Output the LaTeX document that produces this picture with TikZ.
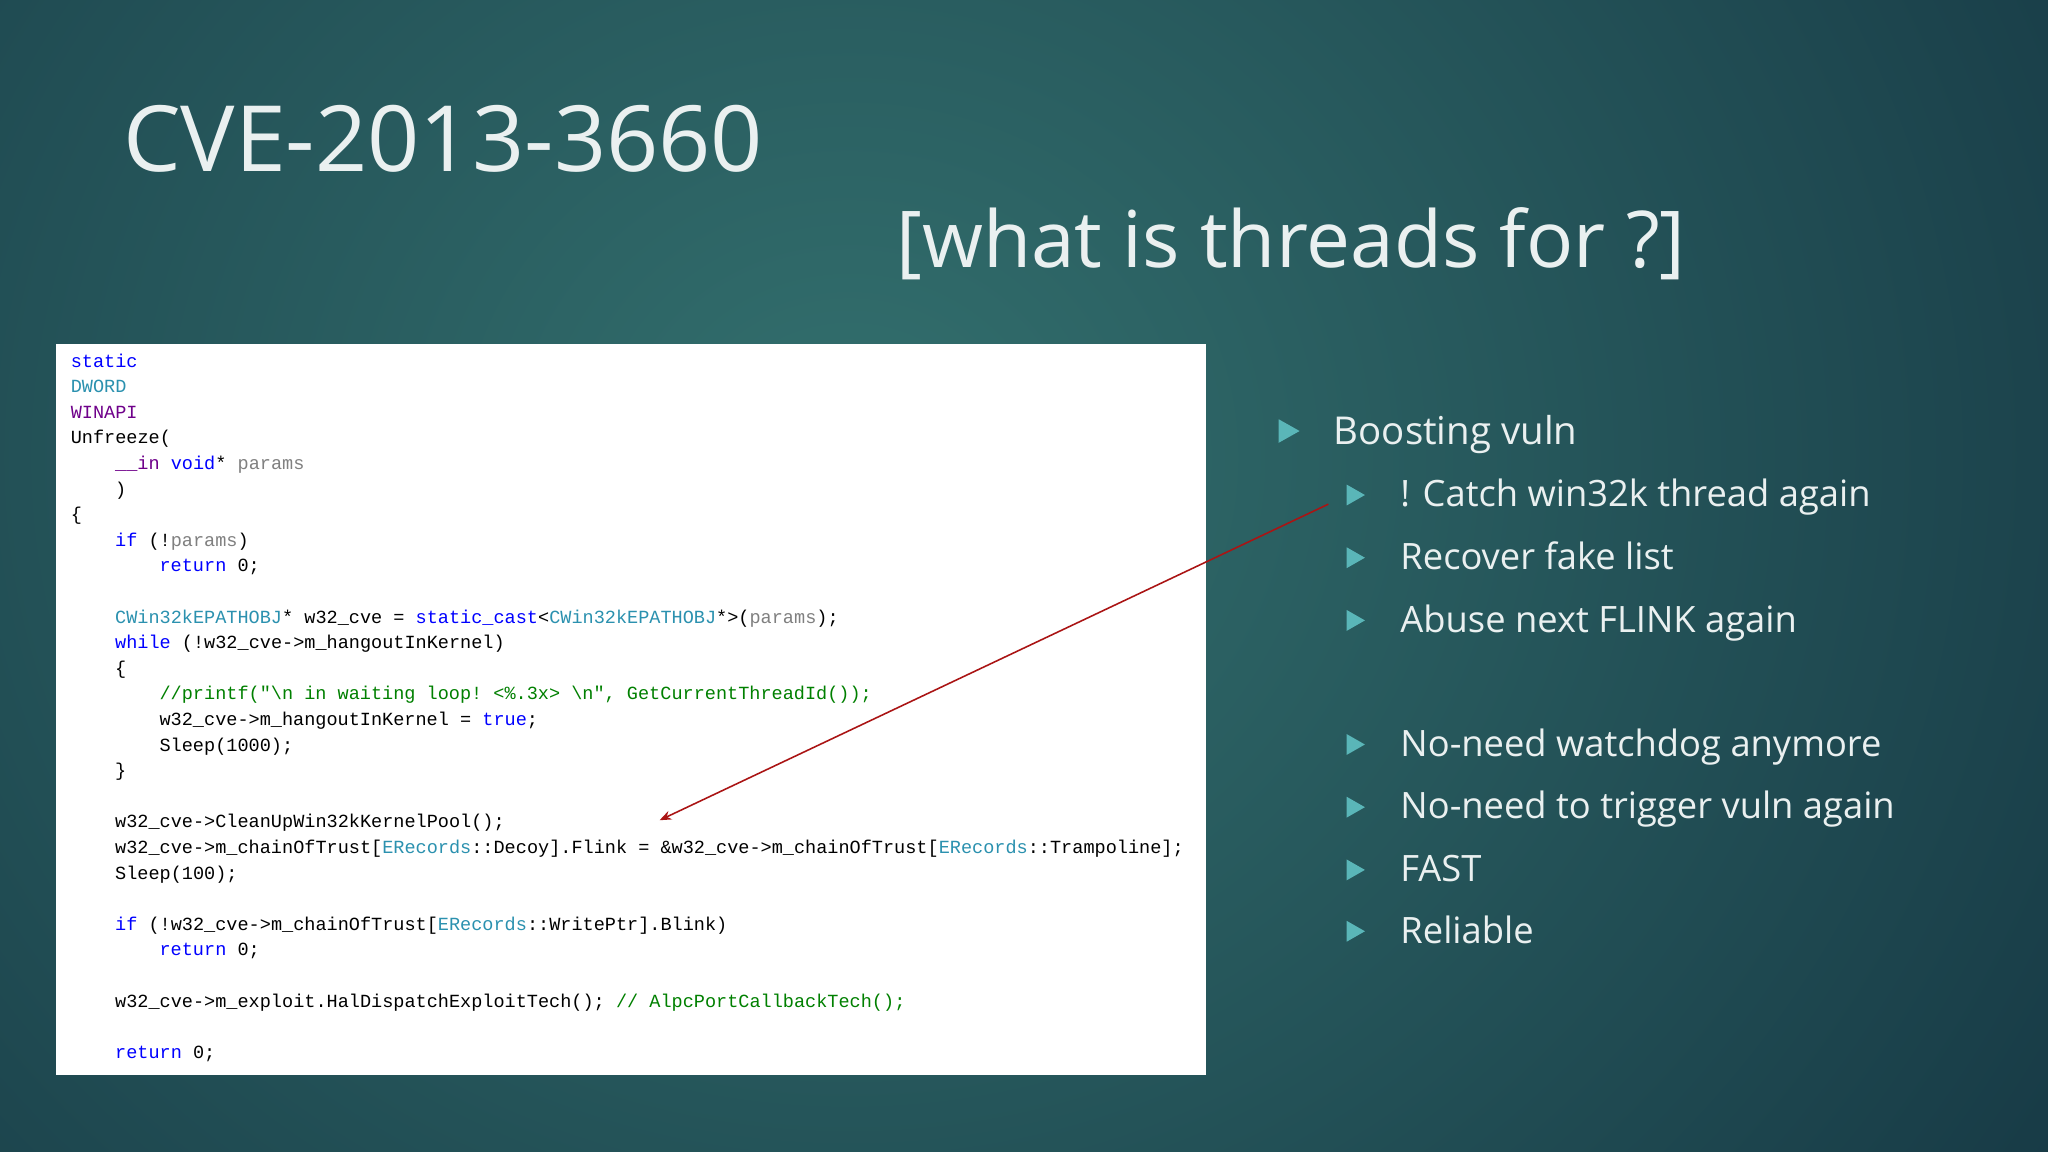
\documentclass[tikz,border=0pt]{standalone}
\usepackage{fontspec}
\setmainfont{Open Sans}
\setmonofont{Liberation Mono}
\usetikzlibrary{arrows.meta}
\definecolor{kw}{HTML}{0000FF}
\definecolor{ty}{HTML}{2B91AF}
\definecolor{pu}{HTML}{6F008A}
\definecolor{gr}{HTML}{808080}
\definecolor{cm}{HTML}{008000}
\definecolor{tri}{HTML}{5AB6B8}
\definecolor{txt}{HTML}{EAF0F0}
\definecolor{bgout}{HTML}{163844}
\definecolor{bgin}{HTML}{33706E}
\begin{document}
\begin{tikzpicture}[x=1pt,y=-1pt,
  code/.style={anchor=base west,inner sep=0pt,font=\fontsize{14.2}{15}\ttfamily},
  bul/.style={anchor=base west,inner sep=0pt,text=txt,font=\fontsize{29.4}{31}\selectfont},
  sbul/.style={anchor=base west,inner sep=0pt,text=txt,font=\fontsize{27.8}{29}\selectfont}]
\useasboundingbox (0,0) rectangle (1568,882);
\shade[inner color=bgin,outer color=bgout] (-500,-700) rectangle (1800,1400);
\fill[white] (43,263) rectangle (923,823);
\node[anchor=base west,inner sep=0pt,text=txt,font=\fontsize{70}{72}\selectfont] (title) at (94,131) {CVE-2013-3660};
\node[anchor=base west,inner sep=0pt,text=txt,font=\fontsize{60}{62}\selectfont] (sub) at (686,205) {[what is threads for ?]};
% code
\def\L#1#2#3{\node[code] (c#1) at (#2,{281+(#1-1)*19.6}) {#3};}
\L{1}{54}{\color{kw}static}
\L{2}{54}{\color{ty}DWORD}
\L{3}{54}{\color{pu}WINAPI}
\L{4}{54}{Unfreeze(}
\L{5}{88}{\textcolor{pu}{\_\_in} \textcolor{kw}{void}* \textcolor{gr}{params}}
\L{6}{88}{)}
\L{7}{54}{\{}
\L{8}{88}{\textcolor{kw}{if} (!\textcolor{gr}{params})}
\L{9}{122}{\textcolor{kw}{return} 0;}
\L{11}{88}{\textcolor{ty}{CWin32kEPATHOBJ}* w32\_cve = \textcolor{kw}{static\_cast}<\textcolor{ty}{CWin32kEPATHOBJ}*>(\textcolor{gr}{params});}
\L{12}{88}{\textcolor{kw}{while} (!w32\_cve->m\_hangoutInKernel)}
\L{13}{88}{\{}
\L{14}{122}{\color{cm}//printf("\textbackslash n in waiting loop! <\%.3x> \textbackslash n", GetCurrentThreadId());}
\L{15}{122}{w32\_cve->m\_hangoutInKernel = \textcolor{kw}{true};}
\L{16}{122}{Sleep(1000);}
\L{17}{88}{\}}
\L{19}{88}{w32\_cve->CleanUpWin32kKernelPool();}
\L{20}{88}{w32\_cve->m\_chainOfTrust[\textcolor{ty}{ERecords}::Decoy].Flink = \&w32\_cve->m\_chainOfTrust[\textcolor{ty}{ERecords}::Trampoline];}
\L{21}{88}{Sleep(100);}
\L{23}{88}{\textcolor{kw}{if} (!w32\_cve->m\_chainOfTrust[\textcolor{ty}{ERecords}::WritePtr].Blink)}
\L{24}{122}{\textcolor{kw}{return} 0;}
\L{26}{88}{w32\_cve->m\_exploit.HalDispatchExploitTech(); \textcolor{cm}{// AlpcPortCallbackTech();}}
\L{28}{88}{\textcolor{kw}{return} 0;}
% bullets
\fill[tri] (979,321) -- (995,330) -- (979,339) -- cycle;
\node[bul] (b0) at (1021,340) {Boosting vuln};
\def\B#1#2#3{\fill[tri] (1031,{#2-17}) -- (1045,{#2-9}) -- (1031,{#2-1}) -- cycle;\node[sbul] (b#1) at (1072,#2) {#3};}
\B{1}{388}{! Catch win32k thread again}
\B{2}{436}{Recover fake list}
\B{3}{484}{Abuse next FLINK again}
\B{4}{579}{No-need watchdog anymore}
\B{5}{627}{No-need to trigger vuln again}
\B{6}{675}{FAST}
\B{7}{722}{Reliable}
\coordinate (as) at (1017,386);
\coordinate (ae) at (505,628);
\draw[color={rgb,255:red,170;green,20;blue,20},line width=1.2pt,-{Stealth[length=9pt,width=7pt]}] (as) -- (ae);
\end{tikzpicture}
\end{document}
